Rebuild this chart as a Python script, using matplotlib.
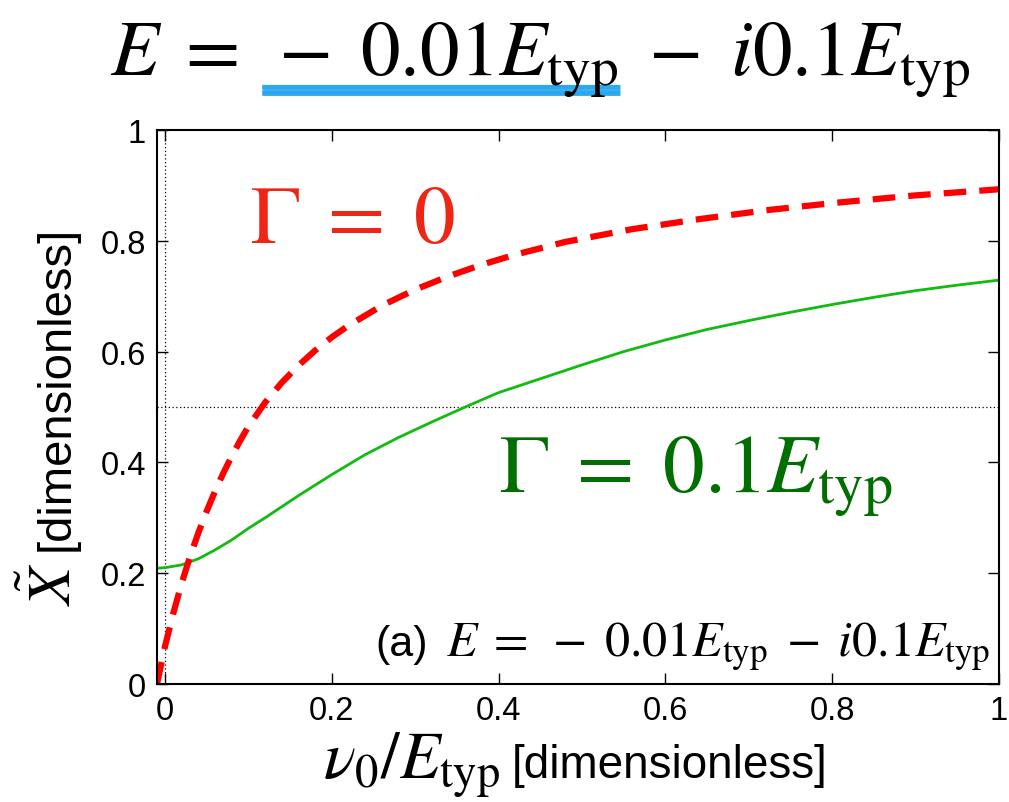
import numpy as np
import matplotlib
matplotlib.use("Agg")
import matplotlib.pyplot as plt
from matplotlib.lines import Line2D

plt.rcParams['font.family'] = ['Liberation Sans', 'DejaVu Sans']
plt.rcParams['mathtext.fontset'] = 'stix'

# values
x_red = [-0.0096, 0.0, 0.01, 0.02, 0.03, 0.04, 0.05, 0.06, 0.07, 0.08, 0.09,
         0.10, 0.12, 0.14, 0.16, 0.18, 0.20, 0.22, 0.26, 0.30, 0.34, 0.38,
         0.42, 0.48, 0.56, 0.64, 0.72, 0.80, 0.90, 1.0]
y_red = [0.0, 0.068, 0.128, 0.182, 0.230, 0.273, 0.312, 0.348, 0.381, 0.411, 0.439,
         0.465, 0.508, 0.544, 0.575, 0.602, 0.626, 0.647, 0.683, 0.712, 0.736, 0.757,
         0.775, 0.798, 0.821, 0.839, 0.855, 0.868, 0.882, 0.893]

x_green = [-0.0096, 0.0, 0.02, 0.04, 0.06, 0.08, 0.10, 0.12, 0.14, 0.16, 0.18,
           0.20, 0.24, 0.28, 0.32, 0.36, 0.40, 0.45, 0.50, 0.55, 0.60, 0.65,
           0.70, 0.75, 0.80, 0.85, 0.90, 0.95, 1.0]
y_green = [0.209, 0.210, 0.215, 0.226, 0.242, 0.260, 0.281, 0.300, 0.320, 0.340, 0.359,
           0.378, 0.414, 0.445, 0.473, 0.500, 0.526, 0.551, 0.576, 0.600, 0.621, 0.640,
           0.656, 0.671, 0.685, 0.698, 0.710, 0.720, 0.729]

ticks = [0, 0.2, 0.4, 0.6, 0.8, 1]
tick_labels = ["0", "0.2", "0.4", "0.6", "0.8", "1"]

W, H = 1009, 803
fig = plt.figure(figsize=(W/100, H/100), dpi=100)
ax = fig.add_axes([157/W, 1-685/H, (999-157)/W, (685-131)/H])

ax.axvline(0, color='black', lw=0.9, ls=(0, (1, 2)))
ax.axhline(0.5, color='black', lw=0.9, ls=(0, (1, 2)))

ax.plot(x_green, y_green, color='#11bb11', lw=2.0)
ax.plot(x_red, y_red, color='#ff0000', lw=4.5, dashes=(3.6, 2.1),
        dash_capstyle='butt')

ax.set_xlim(-0.0096, 1.0)
ax.set_ylim(0, 1)
ax.set_xticks(ticks)
ax.set_xticklabels(tick_labels)
ax.set_yticks(ticks)
ax.set_yticklabels(tick_labels)
ax.tick_params(direction='in', length=8, width=1, labelsize=23.5,
               top=True, right=True, pad=8)
for s in ax.spines.values():
    s.set_linewidth(1.5)

# axis labels: serif math part and sans text part
fig.text(500/W, 1-778/H, r"$\nu_0/E_{\mathrm{typ}}$", fontsize=48,
         ha='right', va='baseline')
fig.text(512/W, 1-778/H, "[dimensionless]", fontsize=33,
         ha='left', va='baseline')
fig.text(71/W, 1-606/H, r"$\tilde{X}$", fontsize=44, rotation=90,
         rotation_mode='anchor', ha='left', va='baseline')
fig.text(69/W, 1-551/H, "[dimensionless]", fontsize=34, rotation=90,
         rotation_mode='anchor', ha='left', va='baseline')

ax.text(0.102, 0.798, r"$\Gamma\;=\;0$", color='#ee2616', fontsize=60)
ax.text(0.40, 0.347, r"$\Gamma\;=\;0.1E_{\mathrm{typ}}$", color='#006e00', fontsize=60)

fig.text(990/W, 1-656/H,
         r"$E\;=\;-\;0.01E_{\mathrm{typ}}\;-\;i0.1E_{\mathrm{typ}}$",
         fontsize=36, ha='right', va='baseline')
fig.text(428/W, 1-656/H, "(a)", fontsize=31, ha='right', va='baseline')

fig.text(110/W, 1-75/H,
         r"$E\;=\;-\;0.01E_{\mathrm{typ}}\;-\;i0.1E_{\mathrm{typ}}$",
         fontsize=57, ha='left', va='baseline')

# crayon-like blue underline below the real part
for dy, lw, a in [(0, 8, 0.85), (-3, 3, 0.6), (3, 3, 0.6)]:
    fig.add_artist(Line2D([262/W, 620/W], [1-(91+dy)/H, 1-(91+dy)/H],
                          transform=fig.transFigure, lw=lw, color='#1ea4ee',
                          solid_capstyle='butt', alpha=a))

fig.savefig("out.png", dpi=100)
